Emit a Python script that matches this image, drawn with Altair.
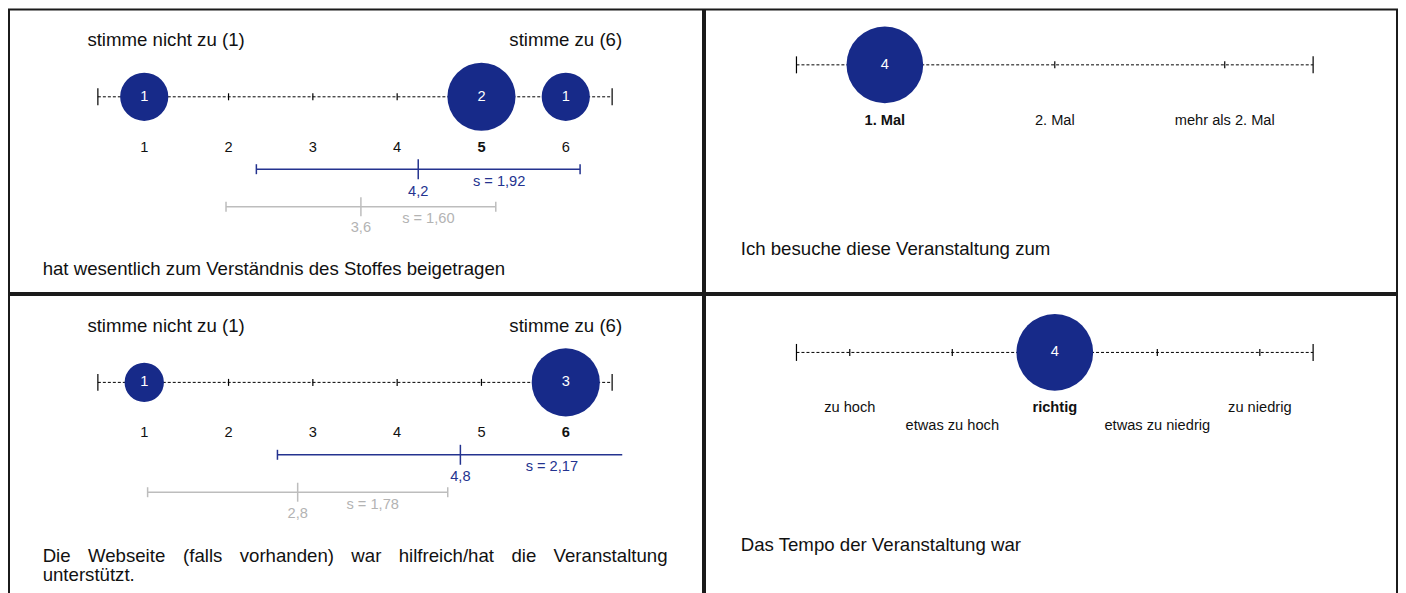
import altair as alt
import pandas as pd

# ---------------- data ----------------
P1_CATEGORIES = ["1", "2", "3", "4", "5", "6"]
P1_COUNTS = [1, 0, 0, 0, 2, 1]
P1_LEFT_POLE = ["stimme nicht zu (1)"]
P1_RIGHT_POLE = ["stimme zu (6)"]
P1_MEAN = 4.25
P1_SD = 1.92
P1_MEAN_LABEL = "4,2"
P1_SD_LABEL = "s = 1,92"
P1_CMP_MEAN = 3.57
P1_CMP_SD = 1.60
P1_CMP_MEAN_LABEL = "3,6"
P1_CMP_SD_LABEL = "s = 1,60"
P1_QUESTION = ["hat wesentlich zum Verständnis des Stoffes beigetragen"]

P2_CATEGORIES = ["1. Mal", "2. Mal", "mehr als 2. Mal"]
P2_COUNTS = [4, 0, 0]
P2_QUESTION = ["Ich besuche diese Veranstaltung zum"]

P3_CATEGORIES = ["1", "2", "3", "4", "5", "6"]
P3_COUNTS = [1, 0, 0, 0, 0, 3]
P3_LEFT_POLE = ["stimme nicht zu (1)"]
P3_RIGHT_POLE = ["stimme zu (6)"]
P3_MEAN = 4.75
P3_SD = 2.17
P3_MEAN_LABEL = "4,8"
P3_SD_LABEL = "s = 2,17"
P3_CMP_MEAN = 2.82
P3_CMP_SD = 1.78
P3_CMP_MEAN_LABEL = "2,8"
P3_CMP_SD_LABEL = "s = 1,78"
P3_QUESTION = ["Die Webseite (falls vorhanden) war hilfreich/hat die Veranstaltung",
               "unterstützt."]

P4_CATEGORIES = ["zu hoch", "etwas zu hoch", "richtig", "etwas zu niedrig", "zu niedrig"]
P4_COUNTS = [0, 0, 4, 0, 0]
P4_LABEL_ROW = [0, 1, 0, 1, 0]
P4_QUESTION = ["Das Tempo der Veranstaltung war"]

# axis limits (in scale units) and clip of the mean bar
LIMITS_6 = (0.45, 6.55)
LIMITS_3 = (0.48, 3.52)
LIMITS_5 = (0.48, 5.52)
MEAN_BAR_CLIP = 6.67

# ---------------- style ----------------
FONT = "Liberation Sans"
NAVY = "#172a89"
BLUE = "#24338f"
GRAY = "#bdbdbd"
GRAY_TEXT = "#b3b3b3"
INK = "#111111"
BIG = 18.67
SMALL = 14.67

W_LEFT, W_RIGHT = 695, 693
H_TOP, H_BOTTOM = 284, 304

# Arial / Liberation Sans advance widths (1/1000 em) used to justify a text line
ADV = {" ": 278, "D": 722, "i": 222, "e": 556, "W": 944, "b": 556, "s": 500, "t": 278,
       "(": 333, "f": 278, "a": 556, "l": 222, "v": 500, "o": 556, "r": 333, "h": 556,
       "n": 556, "d": 556, ")": 333, "w": 722, "c": 500, "/": 278, "V": 667, "g": 556,
       "u": 556}


def xq(field, limits, rng):
    return alt.X(field, type="quantitative",
                 scale=alt.Scale(domain=list(limits), range=list(rng), nice=False, zero=False),
                 axis=None)


def scale_layers(categories, counts, limits, rng, axis_y, max_diam, label_ys, label_rows=None):
    pos = list(range(1, len(categories) + 1))
    lo, hi = limits
    layers = []
    line_df = pd.DataFrame({"lo": [lo], "hi": [hi]})
    layers.append(alt.Chart(line_df).mark_rule(color="black", strokeWidth=1, strokeDash=[3, 2]).encode(
        x=xq("lo", limits, rng), x2="hi", y=alt.value(axis_y)))
    end_df = pd.DataFrame({"v": [lo, hi]})
    layers.append(alt.Chart(end_df).mark_rule(color="black", strokeWidth=1.2).encode(
        x=xq("v", limits, rng), y=alt.value(axis_y - 8.5), y2=alt.value(axis_y + 8.5)))
    tick_df = pd.DataFrame({"v": pos})
    layers.append(alt.Chart(tick_df).mark_rule(color="black", strokeWidth=1.2).encode(
        x=xq("v", limits, rng), y=alt.value(axis_y - 3.5), y2=alt.value(axis_y + 3.5)))
    maxc = max(counts)
    area = 3.14159 * (max_diam / 2) ** 2
    circ_df = pd.DataFrame({"v": pos, "n": counts})
    circ_df = circ_df[circ_df["n"] > 0]
    layers.append(alt.Chart(circ_df).mark_circle(color=NAVY, opacity=1).encode(
        x=xq("v", limits, rng), y=alt.value(axis_y),
        size=alt.Size("n:Q", scale=alt.Scale(domain=[0, maxc], range=[0, area]), legend=None)))
    layers.append(alt.Chart(circ_df).mark_text(color="white", font=FONT, fontSize=SMALL,
                                               baseline="middle").encode(
        x=xq("v", limits, rng), y=alt.value(axis_y), text="n:Q"))
    rows = label_rows if label_rows is not None else [0] * len(categories)
    lab_df = pd.DataFrame({"v": pos, "t": categories, "n": counts, "row": rows})
    lab_df["bold"] = lab_df["n"] == maxc
    for r, ly in enumerate(label_ys):
        for b in (False, True):
            sub = lab_df[(lab_df["row"] == r) & (lab_df["bold"] == b)]
            if len(sub) == 0:
                continue
            layers.append(alt.Chart(sub).mark_text(
                color=INK, font=FONT, fontSize=SMALL, baseline="middle",
                fontWeight="bold" if b else "normal").encode(
                x=xq("v", limits, rng), y=alt.value(ly), text="t:N"))
    return layers


def mean_bar(mean, sd, mlabel, slabel, limits, rng, y, color, tcolor, end_half, mean_half,
             mlabel_y, slabel_y):
    lo = mean - sd
    hi = mean + sd
    hi_c = min(hi, MEAN_BAR_CLIP)
    ends = [lo] + ([hi] if hi <= MEAN_BAR_CLIP else [])
    layers = []
    layers.append(alt.Chart(pd.DataFrame({"a": [lo], "b": [hi_c]})).mark_rule(
        color=color, strokeWidth=1.5).encode(x=xq("a", limits, rng), x2="b", y=alt.value(y)))
    layers.append(alt.Chart(pd.DataFrame({"v": ends})).mark_rule(color=color, strokeWidth=1.5).encode(
        x=xq("v", limits, rng), y=alt.value(y - end_half), y2=alt.value(y + end_half)))
    layers.append(alt.Chart(pd.DataFrame({"v": [mean]})).mark_rule(color=color, strokeWidth=1.5).encode(
        x=xq("v", limits, rng), y=alt.value(y - mean_half), y2=alt.value(y + mean_half)))
    layers.append(alt.Chart(pd.DataFrame({"v": [mean], "t": [mlabel]})).mark_text(
        color=tcolor, font=FONT, fontSize=SMALL, baseline="middle").encode(
        x=xq("v", limits, rng), y=alt.value(mlabel_y), text="t:N"))
    layers.append(alt.Chart(pd.DataFrame({"v": [mean + sd / 2], "t": [slabel]})).mark_text(
        color=tcolor, font=FONT, fontSize=SMALL, baseline="middle").encode(
        x=xq("v", limits, rng), y=alt.value(slabel_y), text="t:N"))
    return layers


def free_text(lines, x, y0, step, size=BIG, align="left"):
    df = pd.DataFrame({"t": lines, "i": list(range(len(lines)))})
    out = []
    for i, line in enumerate(lines):
        out.append(alt.Chart(df[df["i"] == i]).mark_text(
            color=INK, font=FONT, fontSize=size, align=align, baseline="middle").encode(
            x=alt.value(x), y=alt.value(y0 + i * step), text="t:N"))
    return out


def justified_line(line, x0, x1, y, size=BIG):
    """Spread the words of one line so that it fills x0..x1 (block justification)."""
    words = line.split(" ")
    widths = [sum(ADV.get(c, 556) for c in w) / 1000 * size for w in words]
    gap = (x1 - x0 - sum(widths)) / (len(words) - 1)
    xs, cur = [], x0
    for w in widths:
        xs.append(cur)
        cur += w + gap
    df = pd.DataFrame({"t": words, "i": list(range(len(words)))})
    out = []
    for i in range(len(words)):
        out.append(alt.Chart(df[df["i"] == i]).mark_text(
            color=INK, font=FONT, fontSize=size, align="left", baseline="middle").encode(
            x=alt.value(xs[i]), y=alt.value(y), text="t:N"))
    return out


def agree_panel(cats, counts, left_pole, right_pole, mean, sd, ml, sl, cmean, csd, cml, csl, dy):
    rng = (89, 604)
    layers = scale_layers(cats, counts, LIMITS_6, rng, 87.5 + dy, 77, [138.5 + dy])
    layers += free_text(left_pole, 78.5, 31 + dy, 0)
    rp = pd.DataFrame({"v": [len(cats)], "t": right_pole})
    layers.append(alt.Chart(rp).mark_text(color=INK, font=FONT, fontSize=BIG, baseline="middle").encode(
        x=xq("v", LIMITS_6, rng), y=alt.value(31 + dy), text="t:N"))
    layers += mean_bar(mean, sd, ml, sl, LIMITS_6, rng, 160 + dy, BLUE, BLUE, 5, 10,
                       182.5 + dy, 172.5 + dy)
    layers += mean_bar(cmean, csd, cml, csl, LIMITS_6, rng, 197.5 + dy, GRAY, GRAY_TEXT, 5, 9.5,
                       219 + dy, 210 + dy)
    return layers


p1_layers = agree_panel(P1_CATEGORIES, P1_COUNTS, P1_LEFT_POLE, P1_RIGHT_POLE, P1_MEAN, P1_SD,
                        P1_MEAN_LABEL, P1_SD_LABEL, P1_CMP_MEAN, P1_CMP_SD, P1_CMP_MEAN_LABEL,
                        P1_CMP_SD_LABEL, 0)
p1_layers += free_text(P1_QUESTION, 33.7, 260, 0)
p1 = alt.layer(*p1_layers).properties(width=W_LEFT, height=H_TOP)

p3_layers = agree_panel(P3_CATEGORIES, P3_COUNTS, P3_LEFT_POLE, P3_RIGHT_POLE, P3_MEAN, P3_SD,
                        P3_MEAN_LABEL, P3_SD_LABEL, P3_CMP_MEAN, P3_CMP_SD, P3_CMP_MEAN_LABEL,
                        P3_CMP_SD_LABEL, 0)
p3_layers += justified_line(P3_QUESTION[0], 33.7, 660.6, 261)
p3_layers += free_text(P3_QUESTION[1:], 33.7, 280, 0)
p3 = alt.layer(*p3_layers).properties(width=W_LEFT, height=H_BOTTOM)

RNG_R = (91.6, 609)
p2_layers = scale_layers(P2_CATEGORIES, P2_COUNTS, LIMITS_3, RNG_R, 55.5, 86.7, [111.5])
p2_layers += free_text(P2_QUESTION, 35.8, 239.5, 0)
p2 = alt.layer(*p2_layers).properties(width=W_RIGHT, height=H_TOP)

p4_layers = scale_layers(P4_CATEGORIES, P4_COUNTS, LIMITS_5, RNG_R, 57.5, 86.7, [113.5, 131],
                         label_rows=P4_LABEL_ROW)
p4_layers += free_text(P4_QUESTION, 35.8, 250.5, 0)
p4 = alt.layer(*p4_layers).properties(width=W_RIGHT, height=H_BOTTOM)

chart = alt.vconcat(
    alt.hconcat(p1, p2, spacing=0).resolve_scale(size="independent"),
    alt.hconcat(p3, p4, spacing=0).resolve_scale(size="independent"),
    spacing=0,
).resolve_scale(size="independent").properties(
    padding=0
).configure_view(stroke="#1b1b1b", strokeWidth=2)

chart.save("out.html", embed_options={"renderer": "svg", "actions": False})
